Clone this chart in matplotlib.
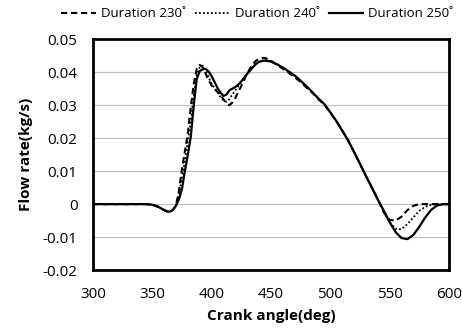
import numpy as np
import matplotlib.pyplot as plt

plt.rcParams['font.family'] = ['Open Sans', 'DejaVu Sans']

# crank angle (deg), finer steps through the opening peak
angle = [300, 310, 320, 330, 340, 345, 350, 355, 360, 362.5, 365, 367.5, 370,
         372.5, 375, 377.5, 380, 382.5, 385, 387.5, 390, 392.5, 395, 397.5,
         400, 402.5, 405, 407.5, 410, 412.5, 415, 417.5, 420, 422.5, 425,
         427.5, 430, 432.5, 435, 437.5, 440, 442.5, 445, 450, 455, 460, 465,
         470, 475, 480, 485, 490, 495, 500, 505, 510, 515, 520, 525, 530, 535,
         540, 545, 550, 555, 560, 565, 570, 575, 580, 585, 590, 595, 600]

# flow rate (kg/s)
dur_230 = [0, 0, 0, 0, 0, 0, -0.0002, -0.0008, -0.0018, -0.0022, -0.0023, -0.0017, -0.0004,
           0.004, 0.0105, 0.016, 0.0215, 0.0295, 0.0365, 0.041, 0.0422, 0.0415, 0.0395, 0.0375,
           0.036, 0.0348, 0.034, 0.033, 0.0318, 0.0305, 0.0300, 0.0308, 0.0322, 0.034, 0.0358,
           0.0378, 0.0396, 0.0412, 0.0425, 0.0435, 0.0440, 0.0443, 0.0443, 0.0435, 0.0422, 0.041, 0.0398,
           0.0385, 0.037, 0.0353, 0.0337, 0.0318, 0.0301, 0.0278, 0.0252, 0.0223, 0.0193, 0.0158, 0.0122, 0.0085, 0.005,
           0.0014, -0.0025, -0.0048, -0.005, -0.0038, -0.0018, -0.0005, 0, 0, 0, 0, 0, 0]

dur_240 = [0, 0, 0, 0, 0, 0, -0.0002, -0.0008, -0.0018, -0.0022, -0.0023, -0.0017, -0.0005,
           0.003, 0.008, 0.013, 0.019, 0.025, 0.033, 0.039, 0.0415, 0.042, 0.0405, 0.0385,
           0.0365, 0.0352, 0.034, 0.0325, 0.0315, 0.031, 0.0318, 0.0332, 0.0345, 0.0358, 0.037,
           0.0383, 0.0395, 0.0406, 0.0417, 0.0426, 0.0432, 0.0435, 0.0436, 0.0433, 0.0424, 0.0413, 0.0401,
           0.0388, 0.0373, 0.0356, 0.0338, 0.0319, 0.0302, 0.0278, 0.0252, 0.0223, 0.0193, 0.0158, 0.0122, 0.0085, 0.005,
           0.0014, -0.0022, -0.0055, -0.0075, -0.0076, -0.006, -0.004, -0.002, -0.0008, -0.0002, 0, 0, 0]

dur_250 = [0, 0, 0, 0, 0, 0, -0.0002, -0.0008, -0.0018, -0.0022, -0.0023, -0.0017, -0.0005,
           0.0015, 0.0045, 0.01, 0.015, 0.0205, 0.03, 0.038, 0.0403, 0.0409, 0.041, 0.0402,
           0.0388, 0.037, 0.0352, 0.0338, 0.0328, 0.0332, 0.0345, 0.035, 0.0355, 0.0362, 0.0372,
           0.0383, 0.0395, 0.0405, 0.0416, 0.0425, 0.0431, 0.0434, 0.0435, 0.0432, 0.0424, 0.0414, 0.0402,
           0.039, 0.0374, 0.0357, 0.0339, 0.032, 0.0303, 0.0278, 0.0252, 0.0223, 0.0193, 0.0158, 0.0122, 0.0085, 0.005,
           0.0014, -0.002, -0.0055, -0.0085, -0.0103, -0.0106, -0.0093, -0.0068, -0.004, -0.0017, -0.0004, 0, 0]

x_ticks = [300, 350, 400, 450, 500, 550, 600]
y_ticks = [-0.02, -0.01, 0, 0.01, 0.02, 0.03, 0.04, 0.05]
y_labels = ['-0.02', '-0.01', '0', '0.01', '0.02', '0.03', '0.04', '0.05']

fig = plt.figure(figsize=(4.62, 3.29), dpi=100)
ax = fig.add_axes([0.201, 0.179, 0.771, 0.702])

ax.plot(angle, dur_230, color='black', lw=1.5, ls=(0, (3, 1.8)), label='Duration 230˚')
ax.plot(angle, dur_240, color='black', lw=1.3, ls=(0, (1, 1.2)), label='Duration 240˚')
ax.plot(angle, dur_250, color='black', lw=1.6, ls='-', label='Duration 250˚')

ax.set_xlim(300, 600)
ax.set_ylim(-0.02, 0.05)
ax.set_xticks(x_ticks)
ax.set_yticks(y_ticks)
ax.set_yticklabels(y_labels)
ax.tick_params(length=0, labelsize=11)
ax.tick_params(axis='x', pad=12)
ax.tick_params(axis='y', pad=11)
ax.yaxis.grid(True, color='#c0c0c0', lw=0.9)
ax.set_axisbelow(True)
for s in ax.spines.values():
    s.set_linewidth(2)
    s.set_color('black')

ax.set_xlabel('Crank angle(deg)', fontsize=11, fontweight='bold', labelpad=5)
ax.set_ylabel('Flow rate(kg/s)', fontsize=11, fontweight='bold', labelpad=7)

fig.legend(loc='center', bbox_to_anchor=(0.557, 0.958), ncol=3, frameon=False,
           fontsize=9.5, handlelength=2.6, columnspacing=0.7, handletextpad=0.4)

fig.savefig('out.png', dpi=100)
